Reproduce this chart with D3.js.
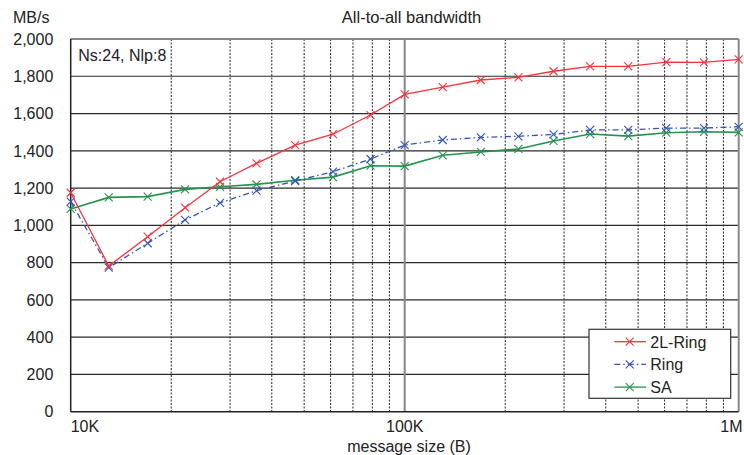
<!DOCTYPE html>
<html>
<head>
<meta charset="utf-8">
<script src="https://cdn.jsdelivr.net/npm/d3@7"></script>
<style>
  body { margin: 0; background: #fff; }
  svg { font-family: "Liberation Sans", Arial, sans-serif; }
</style>
</head>
<body>
<svg width="744" height="455"></svg>
<script>
// message sizes (B)
var sizes = [10000, 13000, 17000, 22000, 28000, 36000, 47000, 61000, 79000,
             100000, 130000, 169000, 219000, 279000, 359000, 467000, 607000, 787000, 1000000];
var ring2L = [1175, 782, 939, 1095, 1234, 1333, 1430, 1489, 1592,
              1703, 1742, 1780, 1794, 1827, 1853, 1853, 1876, 1875, 1891];
var ring = [1127, 773, 904, 1029, 1121, 1186, 1238, 1288, 1356,
            1431, 1458, 1472, 1478, 1488, 1512, 1512, 1522, 1522, 1529];
var sa = [1088, 1150, 1154, 1193, 1207, 1220, 1242, 1259, 1320,
          1318, 1376, 1394, 1410, 1453, 1490, 1479, 1497, 1502, 1499];
var seriesNames = ["2L-Ring", "Ring", "SA"];
var seriesColors = ["#f5333c", "#3556b5", "#279250"];
var seriesDash = [null, "6,3,1.5,3", null];
var yTicks = [0, 200, 400, 600, 800, 1000, 1200, 1400, 1600, 1800, 2000];
var xMajor = [10000, 100000, 1000000];
var xLabels = ["10K", "100K", "1M"];

function main(){
    var svg = d3.select("svg"),
        margin = {top: 39, right: 5.3, bottom: 43.3, left: 70.7},
        width = +svg.attr("width") - margin.left - margin.right,
        height = +svg.attr("height") - margin.top - margin.bottom;

    var g = svg.append("g").attr("transform", "translate(" + margin.left + "," + margin.top + ")");

    var x = d3.scaleLog().domain([10000, 1000000]).range([0, width]);
    var y = d3.scaleLinear().domain([0, 2000]).range([height, 0]);

    // minor vertical gridlines (2..9 per decade)
    var minor = [];
    [10000, 100000].forEach(function(dec){
        for (var k = 2; k <= 9; k++) minor.push(dec * k);
    });
    g.selectAll(".minor").data(minor).enter().append("line")
        .attr("x1", function(d){ return x(d); }).attr("x2", function(d){ return x(d); })
        .attr("y1", 0).attr("y2", height)
        .attr("stroke", "#222").attr("stroke-width", 1)
        .attr("stroke-dasharray", "2,1.5");

    // horizontal gridlines
    g.selectAll(".hgrid").data(yTicks.slice(1, -1)).enter().append("line")
        .attr("x1", 0).attr("x2", width)
        .attr("y1", function(d){ return y(d); }).attr("y2", function(d){ return y(d); })
        .attr("stroke", "#2a2a2a").attr("stroke-width", 1.2);

    // top border + right border + 100K major
    g.append("line").attr("x1", 0).attr("x2", width).attr("y1", 0).attr("y2", 0)
        .attr("stroke", "#888").attr("stroke-width", 2);
    g.append("line").attr("x1", width).attr("x2", width).attr("y1", 0).attr("y2", height)
        .attr("stroke", "#888").attr("stroke-width", 2);
    g.append("line").attr("x1", x(100000)).attr("x2", x(100000)).attr("y1", 0).attr("y2", height)
        .attr("stroke", "#888").attr("stroke-width", 2);

    // axes lines
    g.append("line").attr("x1", 0).attr("x2", 0).attr("y1", 0).attr("y2", height)
        .attr("stroke", "#222").attr("stroke-width", 1.5);
    g.append("line").attr("x1", 0).attr("x2", width).attr("y1", height).attr("y2", height)
        .attr("stroke", "#222").attr("stroke-width", 1.5);

    // y tick labels
    var fmt = d3.format(",");
    svg.selectAll(".ylab").data(yTicks).enter().append("text")
        .attr("x", 53.3)
        .attr("y", function(d){ return margin.top + y(d); })
        .attr("dy", "0.36em")
        .attr("text-anchor", "end")
        .attr("font-size", 16)
        .attr("fill", "#222")
        .text(function(d){ return fmt(d); });

    // x tick labels
    svg.selectAll(".xlab").data(xMajor).enter().append("text")
        .attr("x", function(d, i){ return i === 2 ? 742.5 : margin.left + x(d); })
        .attr("y", 432)
        .attr("text-anchor", function(d, i){ return i === 0 ? "start" : (i === 1 ? "middle" : "end"); })
        .attr("font-size", 16)
        .attr("fill", "#222")
        .text(function(d, i){ return xLabels[i]; });

    svg.append("text").attr("x", 13).attr("y", 22.5)
        .attr("font-size", 16).attr("fill", "#222").text("MB/s");
    svg.append("text").attr("x", 411.5).attr("y", 22.5).attr("text-anchor", "middle")
        .attr("font-size", 16.5).attr("fill", "#222").text("All-to-all bandwidth");
    svg.append("text").attr("x", 409).attr("y", 451.6).attr("text-anchor", "middle")
        .attr("font-size", 16).attr("fill", "#222").text("message size (B)");
    svg.append("text").attr("x", 78.3).attr("y", 61)
        .attr("font-size", 16).attr("fill", "#222").text("Ns:24, Nlp:8");

    // series
    var dados = [ring2L, ring, sa];
    var line = d3.line()
        .x(function(d, i){ return x(sizes[i]); })
        .y(function(d){ return y(d); });

    function cross(sel, color){
        sel.append("path")
            .attr("d", "M-4,-4L4,4M-4,4L4,-4")
            .attr("stroke", color).attr("stroke-width", 1.1).attr("fill", "none");
    }

    [2, 1, 0].forEach(function(s){
        g.append("path").datum(dados[s])
            .attr("d", line)
            .attr("fill", "none")
            .attr("stroke", seriesColors[s])
            .attr("stroke-width", s === 2 ? 1.6 : 1.3)
            .attr("stroke-dasharray", seriesDash[s]);
        var pts = g.selectAll(".pt" + s).data(dados[s]).enter().append("g")
            .attr("transform", function(d, i){ return "translate(" + x(sizes[i]) + "," + y(d) + ")"; });
        cross(pts, seriesColors[s]);
    });

    // legend
    var lg = svg.append("g").attr("transform", "translate(589,329.3)");
    lg.append("rect").attr("width", 141.7).attr("height", 69)
        .attr("fill", "#fff").attr("stroke", "#333").attr("stroke-width", 1.2);
    seriesNames.forEach(function(name, i){
        var yy = 12.4 + i * 22.7;
        lg.append("line").attr("x1", 25.3).attr("x2", 57).attr("y1", yy).attr("y2", yy)
            .attr("stroke", seriesColors[i]).attr("stroke-width", 1.3)
            .attr("stroke-dasharray", seriesDash[i]);
        var m = lg.append("g").attr("transform", "translate(40.7," + yy + ")");
        cross(m, seriesColors[i]);
        lg.append("text").attr("x", 61.3).attr("y", yy + 6)
            .attr("font-size", 16).attr("fill", "#222").text(name);
    });
}
main();
</script>
</body>
</html>
